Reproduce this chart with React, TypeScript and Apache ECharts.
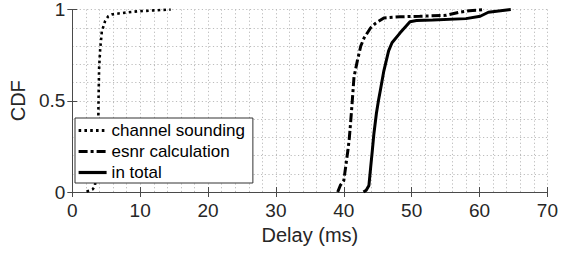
import React, { useEffect, useRef } from "react";
import * as echarts from "echarts";

const soundingX = [2.1, 2.5, 3.0, 3.3, 3.6, 3.8, 3.86, 3.95, 4.1, 4.35, 4.83, 5.3, 5.8, 7.2, 9.6, 12, 14.5];
const soundingY = [0.003, 0.007, 0.015, 0.03, 0.1, 0.3, 0.5, 0.68, 0.78, 0.88, 0.936, 0.963, 0.973, 0.98, 0.99, 0.995, 1.0];

const esnrX = [39.1, 39.5, 40.0, 40.3, 40.6, 40.8, 41.0, 41.25, 41.5, 42.0, 42.5, 43.0, 43.96, 44.7, 45.9, 48.3, 51.2, 55.1, 57.0, 58.5, 60.6];
const esnrY = [0, 0.037, 0.063, 0.145, 0.227, 0.29, 0.38, 0.5, 0.63, 0.72, 0.8, 0.845, 0.9, 0.925, 0.954, 0.96, 0.963, 0.968, 0.985, 0.993, 1.0];

const totalX = [42.9, 43.3, 43.7, 43.96, 44.2, 44.43, 44.8, 45.1, 45.4, 45.9, 46.6, 47.1, 48.3, 49.75, 50.7, 53.1, 58.0, 60.1, 61.3, 64.6];
const totalY = [0, 0.01, 0.036, 0.136, 0.227, 0.318, 0.43, 0.5, 0.56, 0.664, 0.773, 0.818, 0.872, 0.933, 0.94, 0.943, 0.95, 0.963, 0.985, 1.0];

const seriesNames = ["channel sounding", "esnr calculation", "in total"];
const xTicks = { min: 0, max: 70, interval: 10 };
const yTicks = { min: 0, max: 1, interval: 0.5 };

const FONT = "Liberation Sans, Arial, Helvetica, sans-serif";
const AXIS_COLOR = "#4a4a4a";
const GRID_COLOR = "#bcbcbc";

const zip = (xs: number[], ys: number[]) => xs.map((x, i) => [x, ys[i]]);

export default function App() {
  const ref = useRef<HTMLDivElement>(null);
  useEffect(() => {
    if (!ref.current) return;
    const chart = echarts.init(ref.current, undefined, { renderer: "svg" });
    const gridLine = { show: true, lineStyle: { color: GRID_COLOR, type: [1.2, 2.5], width: 1 } };
    const baseAxisLine = { show: true, lineStyle: { color: AXIS_COLOR, width: 1 } };
    const tick = { show: true, inside: true, length: 5, lineStyle: { color: AXIS_COLOR } };
    chart.setOption({
      animation: false,
      backgroundColor: "#ffffff",
      grid: { left: 67, right: 11, top: 8, bottom: 61, containLabel: false },
      legend: {
        orient: "vertical",
        left: 75,
        top: 118,
        data: seriesNames,
        backgroundColor: "#ffffff",
        borderColor: "#333333",
        borderWidth: 1,
        borderRadius: 0,
        padding: [4, 8, 2, 2],
        itemGap: 4,
        itemWidth: 28,
        itemHeight: 14,
        itemStyle: { opacity: 0, borderWidth: 0 },
        lineStyle: { width: 3.2 },
        textStyle: { fontFamily: FONT, fontSize: 17, color: "#000000", lineHeight: 17 },
      },
      xAxis: [
        {
          type: "value",
          ...xTicks,
          position: "bottom",
          name: "Delay (ms)",
          nameLocation: "middle",
          nameGap: 27,
          nameTextStyle: { fontFamily: FONT, fontSize: 20, color: "#262626" },
          axisLine: baseAxisLine,
          axisTick: tick,
          axisLabel: { fontFamily: FONT, fontSize: 19, color: "#262626", margin: 9 },
          splitLine: gridLine,
          minorTick: { show: false, splitNumber: 5 },
          minorSplitLine: gridLine,
        },
        {
          type: "value",
          ...xTicks,
          position: "top",
          axisLine: baseAxisLine,
          axisTick: tick,
          axisLabel: { show: false },
          splitLine: { show: false },
        },
      ],
      yAxis: [
        {
          type: "value",
          ...yTicks,
          position: "left",
          name: "CDF",
          nameLocation: "middle",
          nameGap: 34,
          nameTextStyle: { fontFamily: FONT, fontSize: 20, color: "#262626" },
          axisLine: baseAxisLine,
          axisTick: tick,
          axisLabel: { fontFamily: FONT, fontSize: 19, color: "#262626", margin: 7 },
          splitLine: gridLine,
          minorTick: { show: false, splitNumber: 5 },
          minorSplitLine: gridLine,
        },
        {
          type: "value",
          ...yTicks,
          position: "right",
          axisLine: baseAxisLine,
          axisTick: tick,
          axisLabel: { show: false },
          splitLine: { show: false },
        },
      ],
      series: [
        {
          name: seriesNames[0],
          type: "line",
          data: zip(soundingX, soundingY),
          symbol: "none",
          showSymbol: false,
          lineStyle: { color: "#000000", width: 2.6, type: [2.6, 3.2], cap: "butt" },
          itemStyle: { color: "#000000" },
          z: 3,
        },
        {
          name: seriesNames[1],
          type: "line",
          data: zip(esnrX, esnrY),
          symbol: "none",
          showSymbol: false,
          lineStyle: { color: "#000000", width: 3, type: [9, 3, 3, 3], cap: "butt" },
          itemStyle: { color: "#000000" },
          z: 3,
        },
        {
          name: seriesNames[2],
          type: "line",
          data: zip(totalX, totalY),
          symbol: "none",
          showSymbol: false,
          lineStyle: { color: "#000000", width: 3, type: "solid" },
          itemStyle: { color: "#000000" },
          z: 3,
        },
      ],
    });
    return () => chart.dispose();
  }, []);
  return <div ref={ref} style={{ width: 561, height: 253, position: "absolute", left: 0, top: 0 }} />;
}
